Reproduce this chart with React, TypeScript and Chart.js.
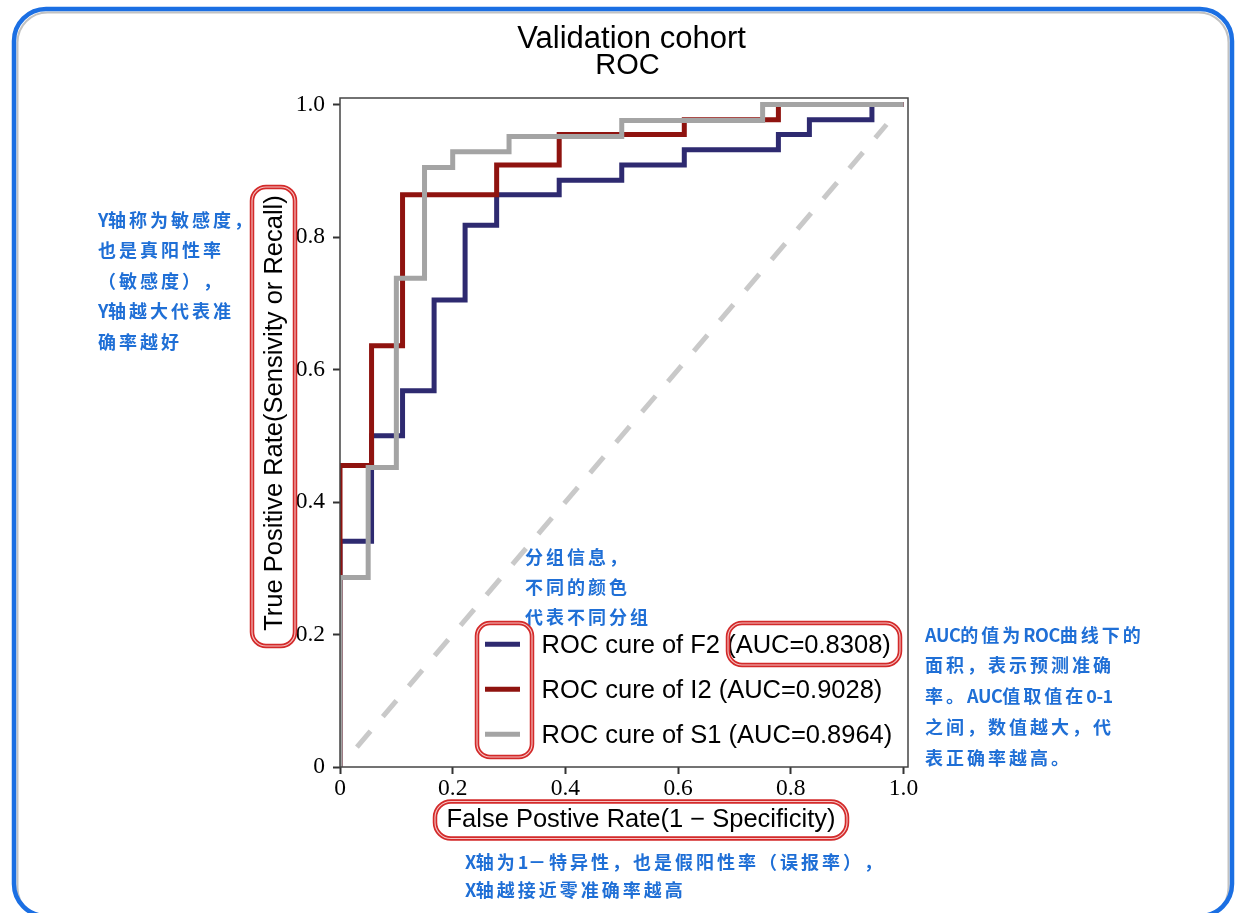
import React, { useEffect, useRef } from "react";
import { Chart, registerables } from "chart.js";

Chart.register(...registerables);

// ---------- data ----------
const TITLE_LINES = ["Validation cohort", "ROC"];
const X_TITLE = "False Postive Rate(1 − Specificity)";
const Y_TITLE = "True Positive Rate(Sensivity or Recall)";

const X_TICKS = [0, 0.2, 0.4, 0.6, 0.8, 1.0];
const X_TICK_LABELS = ["0", "0.2", "0.4", "0.6", "0.8", "1.0"];
const Y_TICKS = [0, 0.2, 0.4, 0.6, 0.8, 1.0];
const Y_TICK_LABELS = ["0", "0.2", "0.4", "0.6", "0.8", "1.0"];

const SERIES_NAMES = [
  "ROC cure of F2 (AUC=0.8308)",
  "ROC cure of I2 (AUC=0.9028)",
  "ROC cure of S1 (AUC=0.8964)",
];
const SERIES_COLORS = ["#2e2a70", "#8f130f", "#a4a4a4"];

const F2_FPR = [0, 0, 0.056, 0.111, 0.167, 0.222, 0.278, 0.389, 0.5, 0.611, 0.778, 0.833, 0.944, 1.0];
const F2_TPR = [0, 0.341, 0.5, 0.568, 0.705, 0.818, 0.864, 0.886, 0.909, 0.932, 0.955, 0.977, 1.0, 1.0];

const I2_FPR = [0, 0, 0.056, 0.111, 0.278, 0.389, 0.611, 0.778, 1.0];
const I2_TPR = [0, 0.455, 0.636, 0.864, 0.909, 0.955, 0.977, 1.0, 1.0];

const S1_FPR = [0, 0, 0.05, 0.1, 0.15, 0.2, 0.3, 0.5, 0.75, 1.0];
const S1_TPR = [0, 0.286, 0.452, 0.738, 0.905, 0.929, 0.952, 0.976, 1.0, 1.0];

const REF_X = [0.03, 0.97];
const REF_Y = [0.03, 0.97];

const NOTE_Y = ["Y轴称为敏感度，", "也是真阳性率", "（敏感度），", "Y轴越大代表准", "确率越好"];
const NOTE_GROUP = ["分组信息，", "不同的颜色", "代表不同分组"];
const NOTE_AUC = ["AUC的值为ROC曲线下的", "面积，表示预测准确", "率。AUC值取值在0-1", "之间，数值越大，代", "表正确率越高。"];
const NOTE_X = ["X轴为1－特异性，也是假阳性率（误报率），", "X轴越接近零准确率越高"];

// ---------- helpers ----------
const SANS = "'Liberation Sans', Arial, Helvetica, sans-serif";
const SERIF = "'Liberation Serif', 'Times New Roman', serif";
const CJK = "'Noto Sans CJK SC', 'Noto Sans', sans-serif";
const NOTE_COLOR = "#1f6fd6";
const CJK_PITCH = 21;

const toPoints = (xs: number[], ys: number[]) => xs.map((x, i) => ({ x, y: ys[i] }));

function redBox(ctx: CanvasRenderingContext2D, x: number, y: number, w: number, h: number, r: number) {
  ctx.save();
  ctx.beginPath();
  (ctx as any).roundRect(x, y, w, h, r);
  ctx.strokeStyle = "#d32a2a";
  ctx.lineWidth = 4.5;
  ctx.stroke();
  ctx.beginPath();
  (ctx as any).roundRect(x, y, w, h, r);
  ctx.strokeStyle = "#f6c4c4";
  ctx.lineWidth = 1.1;
  ctx.stroke();
  ctx.restore();
}

const isWide = (ch: string) => {
  const c = ch.codePointAt(0) || 0;
  return c >= 0x2e80;
};

function noteLines(ctx: CanvasRenderingContext2D, lines: string[], x: number, ys: number[]) {
  ctx.save();
  ctx.font = `bold 18px ${CJK}`;
  ctx.fillStyle = NOTE_COLOR;
  ctx.textBaseline = "middle";
  lines.forEach((t, i) => {
    let cx = x;
    for (const ch of Array.from(t)) {
      if (isWide(ch)) {
        ctx.textAlign = "left";
        ctx.fillText(ch, cx, ys[i]);
        cx += CJK_PITCH;
      } else {
        ctx.textAlign = "left";
        ctx.fillText(ch, cx, ys[i]);
        cx += ctx.measureText(ch).width - 0.5;
      }
    }
  });
  ctx.restore();
}

const decorPlugin = {
  id: "decor",
  beforeDraw(chart: any) {
    const ctx: CanvasRenderingContext2D = chart.ctx;
    ctx.save();
    ctx.fillStyle = "#ffffff";
    ctx.fillRect(0, 0, chart.width, chart.height);
    ctx.beginPath();
    (ctx as any).roundRect(17.5, 12.5, 1211, 905, 30);
    ctx.strokeStyle = "#c2c2c2";
    ctx.lineWidth = 2;
    ctx.stroke();
    ctx.beginPath();
    (ctx as any).roundRect(14, 9, 1218, 907, 32);
    ctx.strokeStyle = "#1b6fe3";
    ctx.lineWidth = 4.5;
    ctx.stroke();
    ctx.restore();
  },
  afterDatasetsDraw(chart: any) {
    const ctx: CanvasRenderingContext2D = chart.ctx;
    const a = chart.chartArea;
    ctx.save();
    ctx.strokeStyle = "#444444";
    ctx.lineWidth = 1.5;
    ctx.strokeRect(a.left, a.top, a.right - a.left, a.bottom - a.top);
    ctx.restore();
  },
  afterDraw(chart: any) {
    const ctx: CanvasRenderingContext2D = chart.ctx;
    ctx.save();
    ctx.fillStyle = "#000";
    ctx.textAlign = "center";
    ctx.textBaseline = "alphabetic";
    ctx.font = `31px ${SANS}`;
    ctx.fillText(TITLE_LINES[0], 631.5, 47.5);
    ctx.font = `29px ${SANS}`;
    ctx.fillText(TITLE_LINES[1], 627.5, 73.5);

    ctx.font = `25.5px ${SANS}`;
    ctx.fillText(X_TITLE, 641, 826.5);
    ctx.save();
    ctx.translate(282, 413);
    ctx.rotate(-Math.PI / 2);
    ctx.textBaseline = "alphabetic";
    ctx.fillText(Y_TITLE, 0, 0);
    ctx.restore();

    const rowsY = [644.3, 689.3, 734.3];
    chart.data.datasets.forEach((ds: any, i: number) => {
      if (!ds.inLegend) return;
      const y = rowsY[i];
      ctx.beginPath();
      ctx.moveTo(485, y);
      ctx.lineTo(520, y);
      ctx.strokeStyle = ds.borderColor;
      ctx.lineWidth = 5;
      ctx.lineCap = "butt";
      ctx.stroke();
      ctx.fillStyle = "#000";
      ctx.font = `25.5px ${SANS}`;
      ctx.textAlign = "left";
      ctx.textBaseline = "alphabetic";
      ctx.fillText(ds.label, 541.5, y + 9);
    });
    ctx.restore();

    noteLines(ctx, NOTE_Y, 98, [220, 250.5, 281, 311.5, 342]);
    noteLines(ctx, NOTE_GROUP, 525, [556.7, 586.7, 616.7]);
    noteLines(ctx, NOTE_AUC, 925, [635, 665.5, 696.5, 727.5, 758]);
    noteLines(ctx, NOTE_X, 465, [861.7, 890.5]);

    redBox(ctx, 252, 187, 43, 459, 14);
    redBox(ctx, 435, 801.5, 412, 37, 16);
    redBox(ctx, 477, 623, 55, 134, 13);
    redBox(ctx, 728, 623, 172, 42, 14);
  },
};

export default function App() {
  const ref = useRef<HTMLCanvasElement | null>(null);

  useEffect(() => {
    document.body.style.margin = "0";
    const canvas = ref.current;
    if (!canvas) return;

    const lineDs = (label: string, xs: number[], ys: number[], color: string, order: number) => ({
      label,
      data: toPoints(xs, ys),
      borderColor: color,
      backgroundColor: color,
      borderWidth: 5,
      stepped: "before" as const,
      pointRadius: 0,
      pointHoverRadius: 0,
      fill: false,
      borderJoinStyle: "miter" as const,
      borderCapStyle: "butt" as const,
      clip: 0,
      order,
      inLegend: true,
    });

    const chart = new Chart(canvas, {
      type: "line",
      data: {
        datasets: [
          lineDs(SERIES_NAMES[0], F2_FPR, F2_TPR, SERIES_COLORS[0], 2),
          lineDs(SERIES_NAMES[1], I2_FPR, I2_TPR, SERIES_COLORS[1], 1),
          lineDs(SERIES_NAMES[2], S1_FPR, S1_TPR, SERIES_COLORS[2], 0),
          {
            label: "reference",
            data: toPoints(REF_X, REF_Y),
            borderColor: "#c9c9c9",
            borderWidth: 5,
            borderDash: [21, 19],
            borderCapStyle: "butt",
            pointRadius: 0,
            pointHoverRadius: 0,
            fill: false,
            order: 3,
            inLegend: false,
          } as any,
        ] as any,
      },
      options: {
        responsive: false,
        animation: false,
        events: [],
        layout: { padding: { left: 280, top: 98, right: 334, bottom: 106 } },
        plugins: {
          legend: { display: false },
          title: { display: false },
          tooltip: { enabled: false },
        },
        scales: {
          x: {
            type: "linear",
            min: 0,
            max: 1.008,
            afterFit: (s: any) => {
              s.height = 40;
            },
            afterBuildTicks: (s: any) => {
              s.ticks = X_TICKS.map((v) => ({ value: v }));
            },
            ticks: {
              callback: (v: any) => X_TICK_LABELS[X_TICKS.indexOf(Number(v))] ?? "",
              font: { family: SERIF, size: 23.5 },
              color: "#000",
              padding: 1,
              maxRotation: 0,
            },
            grid: {
              drawOnChartArea: false,
              drawTicks: true,
              tickLength: 7,
              tickColor: "#333",
              tickWidth: 2,
            } as any,
            border: { display: false },
          },
          y: {
            type: "linear",
            min: 0,
            max: 1.01,
            afterFit: (s: any) => {
              s.width = 60;
            },
            afterBuildTicks: (s: any) => {
              s.ticks = Y_TICKS.map((v) => ({ value: v }));
            },
            ticks: {
              callback: (v: any) => Y_TICK_LABELS[Y_TICKS.indexOf(Number(v))] ?? "",
              font: { family: SERIF, size: 23.5 },
              color: "#000",
              padding: 8,
            },
            grid: {
              drawOnChartArea: false,
              drawTicks: true,
              tickLength: 7,
              tickColor: "#333",
              tickWidth: 2,
            } as any,
            border: { display: false },
          },
        },
      } as any,
      plugins: [decorPlugin],
    });

    return () => chart.destroy();
  }, []);

  return (
    <div style={{ width: 1242, height: 913, position: "relative", overflow: "hidden" }}>
      <canvas ref={ref} width={1242} height={913} style={{ display: "block", width: 1242, height: 913 }} />
    </div>
  );
}
